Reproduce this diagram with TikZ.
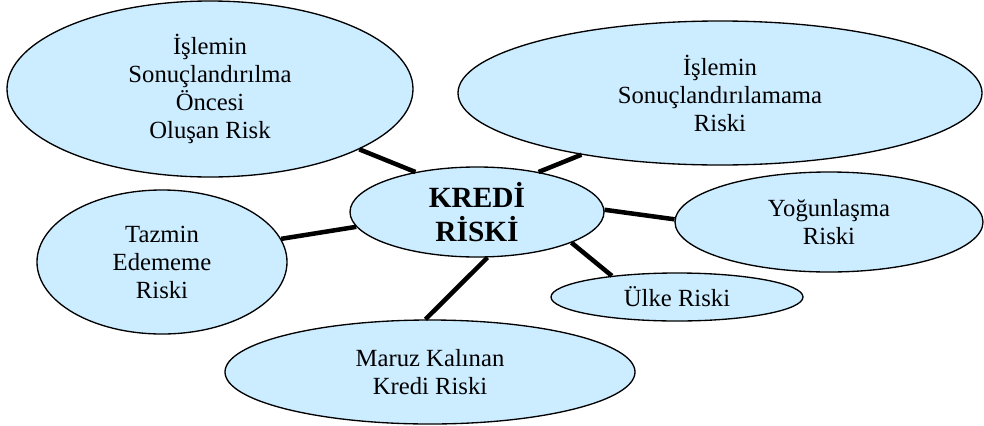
\documentclass[tikz,border=0pt]{standalone}
\usepackage{fontspec}
\setmainfont{Liberation Serif}
\usepackage{tikz}
\usetikzlibrary{shapes.geometric}
\definecolor{riskblue}{RGB}{204,236,255}

\begin{document}
\begin{tikzpicture}[x=0.75pt,y=-0.75pt,
    risk/.style={ellipse, draw=black, line width=1pt, fill=riskblue, inner sep=0pt,
                 align=center, font=\fontsize{18.5}{21}\selectfont},
    link/.style={line width=3.4pt, black}]
    \useasboundingbox (0,0) rectangle (984,425);
	%the risks
    \node[risk, minimum width=304.5pt, minimum height=132pt] (oncesi) at (210,89)
        {İşlemin\\Sonuçlandırılma\\Öncesi\\Oluşan Risk};
    \node[risk, minimum width=393pt, minimum height=108pt] (sonuc) at (720,93)
        {İşlemin\\Sonuçlandırılamama\\Riski};
    \node[risk, minimum width=187.5pt, minimum height=108pt] (tazmin) at (162,262)
        {Tazmin\\Edememe\\Riski};
    \node[risk, minimum width=231pt, minimum height=75pt] (yogun) at (829,222)
        {Yoğunlaşma\\Riski};
    \node[risk, minimum width=189pt, minimum height=36pt] (ulke) at (677,297)
        {Ülke Riski};
    \node[risk, minimum width=307.5pt, minimum height=78pt] (maruz) at (430,372)
        {Maruz Kalınan\\Kredi Riski};
	%the centre
    \node[risk, minimum width=190.5pt, minimum height=67.5pt,
          font=\fontsize{22}{25}\selectfont\bfseries] (kredi) at (477,212)
        {KREDİ\\RİSKİ};
	%links to the centre
    \draw[link] (kredi.147.8) -- (oncesi.-22.4);
    \draw[link] (kredi.33.7) -- (sonuc.-156);
    \draw[link] (kredi.1) -- (yogun.179);
    \draw[link] (kredi.-18.8) -- (ulke.162);
    \draw[link] (kredi.187.2) -- (tazmin.11.7);
    \draw[link] (kredi.-77.5) -- (maruz.95.7);
\end{tikzpicture}
\end{document}
